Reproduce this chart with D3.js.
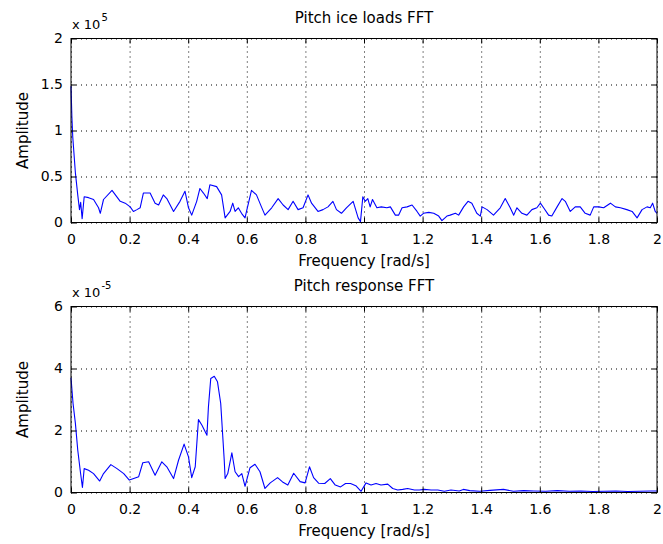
<!DOCTYPE html>
<html>
<head>
<meta charset="utf-8">
<script src="https://cdn.jsdelivr.net/npm/d3@7"></script>
<style>
html,body{margin:0;padding:0;background:#fff;}
svg{display:block;}
text{font-family:"DejaVu Sans",sans-serif;fill:#000;}
</style>
</head>
<body>
<svg id="chart" width="663" height="544"></svg>
<script>
// ---- data ----
const freqLoads = [0,0.003,0.006,0.015,0.023,0.029,0.033,0.038,0.045,0.060,0.077,0.094,0.100,0.111,0.140,0.168,0.185,0.202,0.213,0.225,0.236,0.247,0.270,0.287,0.299,0.315,0.327,0.350,0.372,0.389,0.401,0.412,0.429,0.440,0.452,0.465,0.474,0.497,0.514,0.526,0.543,0.552,0.560,0.571,0.582,0.594,0.599,0.616,0.633,0.650,0.662,0.685,0.707,0.724,0.741,0.758,0.775,0.792,0.809,0.821,0.843,0.860,0.877,0.894,0.906,0.923,0.940,0.963,0.980,0.988,0.996,1.004,1.013,1.021,1.029,1.044,1.059,1.078,1.090,1.107,1.118,1.130,1.147,1.164,1.181,1.192,1.203,1.221,1.238,1.255,1.266,1.283,1.294,1.312,1.323,1.340,1.355,1.368,1.385,1.397,1.403,1.420,1.442,1.465,1.482,1.499,1.511,1.522,1.539,1.556,1.573,1.590,1.602,1.613,1.630,1.641,1.659,1.676,1.687,1.704,1.721,1.738,1.755,1.772,1.784,1.801,1.818,1.841,1.858,1.875,1.897,1.915,1.932,1.949,1.966,1.977,1.985,1.994,2.000];
const ampLoads = [1.48,1.15,0.93,0.54,0.30,0.14,0.22,0.04,0.28,0.27,0.25,0.16,0.10,0.25,0.35,0.23,0.21,0.17,0.12,0.14,0.16,0.32,0.32,0.21,0.19,0.30,0.26,0.12,0.23,0.34,0.16,0.08,0.23,0.37,0.32,0.26,0.41,0.39,0.30,0.05,0.12,0.21,0.12,0.16,0.10,0.05,0.12,0.35,0.30,0.17,0.08,0.16,0.26,0.19,0.14,0.23,0.14,0.16,0.30,0.21,0.12,0.14,0.17,0.23,0.14,0.10,0.16,0.23,0.05,0.01,0.28,0.23,0.26,0.17,0.25,0.16,0.17,0.16,0.17,0.08,0.08,0.16,0.17,0.19,0.12,0.07,0.10,0.11,0.10,0.07,0.02,0.07,0.08,0.10,0.08,0.17,0.23,0.21,0.10,0.07,0.17,0.14,0.08,0.16,0.26,0.16,0.08,0.16,0.10,0.08,0.14,0.16,0.21,0.16,0.08,0.07,0.17,0.26,0.23,0.12,0.17,0.17,0.10,0.08,0.17,0.17,0.16,0.21,0.17,0.16,0.14,0.12,0.05,0.14,0.17,0.16,0.21,0.12,0.10];

const freqResp = [0,0.007,0.015,0.023,0.032,0.039,0.045,0.060,0.077,0.098,0.111,0.136,0.157,0.180,0.199,0.214,0.231,0.245,0.265,0.287,0.310,0.327,0.350,0.367,0.386,0.401,0.412,0.424,0.435,0.447,0.464,0.469,0.477,0.489,0.500,0.511,0.523,0.526,0.535,0.549,0.560,0.572,0.583,0.594,0.611,0.628,0.645,0.662,0.680,0.705,0.722,0.740,0.760,0.782,0.799,0.814,0.828,0.845,0.866,0.885,0.902,0.920,0.937,0.954,0.972,0.990,1.007,1.024,1.041,1.058,1.081,1.098,1.115,1.132,1.149,1.172,1.189,1.206,1.229,1.252,1.274,1.297,1.325,1.339,1.361,1.395,1.430,1.476,1.510,1.545,1.580,1.620,1.660,1.700,1.740,1.780,1.820,1.860,1.900,1.940,1.980,2.000];
const ampResp = [3.70,2.87,2.23,1.37,0.67,0.16,0.77,0.72,0.61,0.37,0.61,0.90,0.77,0.61,0.40,0.45,0.51,0.96,0.99,0.56,0.99,0.83,0.45,1.04,1.56,1.15,0.48,0.83,2.35,2.17,1.85,2.76,3.68,3.75,3.57,2.87,1.04,0.45,0.61,1.28,0.67,0.51,0.61,0.20,0.80,0.91,0.67,0.13,0.31,0.48,0.34,0.24,0.62,0.35,0.31,0.83,0.48,0.30,0.29,0.45,0.24,0.18,0.29,0.29,0.22,0.04,0.31,0.24,0.29,0.24,0.27,0.13,0.08,0.10,0.13,0.08,0.08,0.10,0.08,0.08,0.04,0.08,0.05,0.10,0.06,0.04,0.07,0.10,0.04,0.06,0.05,0.04,0.06,0.04,0.05,0.03,0.04,0.05,0.03,0.04,0.05,0.05];

const xTicks = [0,0.2,0.4,0.6,0.8,1,1.2,1.4,1.6,1.8,2];
const yTicksLoads = [0,0.5,1,1.5,2];
const yTicksResp = [0,2,4,6];

const titles = ["Pitch ice loads FFT","Pitch response FFT"];
const xLabel = "Frequency [rad/s]";
const yLabel = "Amplitude";
const expBase = "x 10";
const exps = ["5","-5"];

// ---- layout ----
const svg = d3.select("#chart");
const L = 71, R = 657;

const panels = [
  {top:38.5, bottom:222.5, freq:freqLoads, amp:ampLoads, ymax:2, yTicks:yTicksLoads, title:titles[0], exp:exps[0]},
  {top:306.5, bottom:492.5, freq:freqResp, amp:ampResp, ymax:6, yTicks:yTicksResp, title:titles[1], exp:exps[1]}
];

panels.forEach(p => {
  const x = d3.scaleLinear().domain([0,2]).range([L,R]);
  const y = d3.scaleLinear().domain([0,p.ymax]).range([p.bottom,p.top]);
  const h = p.bottom - p.top, w = R - L;
  const g = svg.append("g");

  // grid
  const gx = g.append("g").attr("transform",`translate(0,${p.bottom})`)
    .call(d3.axisBottom(x).tickValues(xTicks).tickSize(-h).tickFormat(""));
  const gy = g.append("g").attr("transform",`translate(${L},0)`)
    .call(d3.axisLeft(y).tickValues(p.yTicks).tickSize(-w).tickFormat(""));
  [gx,gy].forEach(a => {
    a.select(".domain").remove();
    a.selectAll("line").attr("stroke","#000").attr("stroke-width",1)
      .attr("stroke-dasharray","1,4");
  });

  // data line
  const data = p.freq.map((f,i)=>[f,p.amp[i]]);
  g.append("path").datum(data)
    .attr("fill","none").attr("stroke","#0000ff").attr("stroke-width",1.1)
    .attr("stroke-linejoin","round")
    .attr("d", d3.line().x(d=>x(d[0])).y(d=>y(d[1])));

  // axes with inward ticks
  const ax = g.append("g").attr("transform",`translate(0,${p.bottom})`)
    .call(d3.axisBottom(x).tickValues(xTicks).tickSizeInner(-5).tickSizeOuter(0).tickPadding(10).tickFormat(d=>String(d)));
  const axT = g.append("g").attr("transform",`translate(0,${p.top})`)
    .call(d3.axisTop(x).tickValues(xTicks).tickSizeInner(-5).tickSizeOuter(0).tickFormat(""));
  const ay = g.append("g").attr("transform",`translate(${L},0)`)
    .call(d3.axisLeft(y).tickValues(p.yTicks).tickSizeInner(-5).tickSizeOuter(0).tickPadding(8).tickFormat(d=>String(d)));
  const ayR = g.append("g").attr("transform",`translate(${R},0)`)
    .call(d3.axisRight(y).tickValues(p.yTicks).tickSizeInner(-5).tickSizeOuter(0).tickFormat(""));
  [ax,axT,ay,ayR].forEach(a => {
    a.select(".domain").remove();
    a.selectAll("line").attr("stroke","#000").attr("stroke-width",1);
    a.selectAll("text").attr("font-family","DejaVu Sans, sans-serif").attr("font-size",14).attr("fill","#000");
  });
  ax.selectAll("text").attr("dy",null).attr("y",null).attr("dominant-baseline",null)
    .attr("transform",null).each(function(){ d3.select(this).attr("y", 21.5); });

  // box
  g.append("rect").attr("x",L).attr("y",p.top).attr("width",w).attr("height",h)
    .attr("fill","none").attr("stroke","#000").attr("stroke-width",1);

  // title
  g.append("text").attr("x",(L+R)/2).attr("y",p.top-16).attr("text-anchor","middle")
    .attr("font-size",15).text(p.title);
  // x label
  g.append("text").attr("x",(L+R)/2).attr("y",p.bottom+43.5).attr("text-anchor","middle")
    .attr("font-size",15).text(xLabel);
  // y label
  g.append("text").attr("transform",`translate(28,${(p.top+p.bottom)/2}) rotate(-90)`)
    .attr("text-anchor","middle").attr("font-size",15).text(yLabel);
  // exponent
  const t = g.append("text").attr("x",L+1).attr("y",p.top-9.5).attr("font-size",13);
  t.append("tspan").text(expBase);
  t.append("tspan").attr("font-size",10).attr("dy",-8).attr("dx",1).text(p.exp);
});
</script>
</body>
</html>
